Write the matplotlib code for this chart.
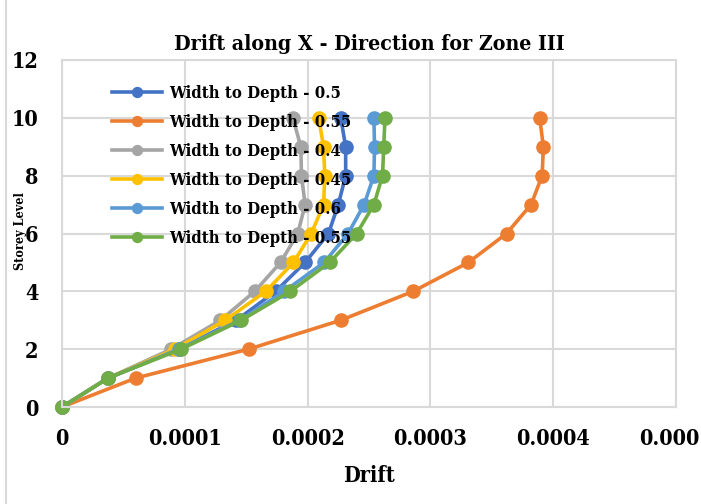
import matplotlib.pyplot as plt
from matplotlib.lines import Line2D

# storey levels and drift values (in units of 1e-4)
levels = [0, 1, 2, 3, 4, 5, 6, 7, 8, 9, 10]

drift_05 = [0, 0.375, 0.95, 1.42, 1.74, 1.98, 2.17, 2.25, 2.31, 2.31, 2.27]
drift_055 = [0, 0.60, 1.52, 2.27, 2.86, 3.31, 3.62, 3.82, 3.91, 3.92, 3.89]
drift_04 = [0, 0.375, 0.89, 1.29, 1.57, 1.78, 1.92, 1.98, 1.95, 1.945, 1.88]
drift_045 = [0, 0.375, 0.92, 1.33, 1.66, 1.885, 2.03, 2.13, 2.14, 2.13, 2.09]
drift_06 = [0, 0.375, 0.95, 1.45, 1.81, 2.135, 2.33, 2.46, 2.54, 2.545, 2.54]
drift_055b = [0, 0.375, 0.97, 1.46, 1.86, 2.18, 2.40, 2.54, 2.61, 2.62, 2.63]

labels = ['Width to Depth - 0.5', 'Width to Depth - 0.55', 'Width to Depth - 0.4',
          'Width to Depth - 0.45', 'Width to Depth - 0.6', 'Width to Depth - 0.55']
colors = ['#4472C4', '#ED7D31', '#A5A5A5', '#FFC000', '#5B9BD5', '#70AD47']
series = [drift_05, drift_055, drift_04, drift_045, drift_06, drift_055b]

x_ticks = [0, 0.0001, 0.0002, 0.0003, 0.0004, 0.0005]
x_ticklabels = ['0', '0.0001', '0.0002', '0.0003', '0.0004', '0.0005']
y_ticks = [0, 2, 4, 6, 8, 10, 12]

txt = dict(family='DejaVu Serif', stretch='condensed', weight='bold')
grid_col = '#D9D9D9'

fig = plt.figure(figsize=(7.01, 5.04), dpi=100)
ax = fig.add_axes([62 / 701, 1 - 407 / 504, 614 / 701, 347 / 504])

for vals, col, lab in zip(series, colors, labels):
    ax.plot([v * 1e-4 for v in vals], levels, color=col, lw=2.6,
            marker='o', markersize=9.5, label=lab, clip_on=False)

ax.set_xlim(0, 0.0005)
ax.set_ylim(0, 12)
ax.set_xticks(x_ticks)
ax.set_xticklabels(x_ticklabels)
ax.set_yticks(y_ticks)
ax.grid(True, color=grid_col, lw=1.5)
ax.set_axisbelow(True)
for sp in ax.spines.values():
    sp.set_color(grid_col)
    sp.set_linewidth(1.5)
ax.tick_params(length=0)
ax.tick_params(axis='x', pad=15)
ax.tick_params(axis='y', pad=17)
for t in ax.get_xticklabels() + ax.get_yticklabels():
    t.set_fontproperties(dict(txt, size=15.5))

ax.set_title('Drift along X - Direction for Zone III', fontdict=dict(txt, size=15.3), pad=7)
ax.set_xlabel('Drift', fontdict=dict(txt, size=15.5), labelpad=11)
fig.text(21 / 701, 1 - 231 / 504, 'Storey Level', rotation=90, ha='center', va='center',
         fontdict=dict(txt, size=9))

leg = ax.legend(loc='upper left', bbox_to_anchor=(42 / 614, 1 - 17 / 347), frameon=False,
                prop=dict(txt, size=12),
                handlelength=3.0, handletextpad=0.4, labelspacing=0.72,
                borderpad=0, markerscale=0.75)
leg.set_zorder(5)

# thin border on the left edge of the chart area
fig.add_artist(Line2D([5.5 / 701, 5.5 / 701], [0, 1], color=grid_col, lw=1.5))

fig.savefig('out.png', dpi=100)
